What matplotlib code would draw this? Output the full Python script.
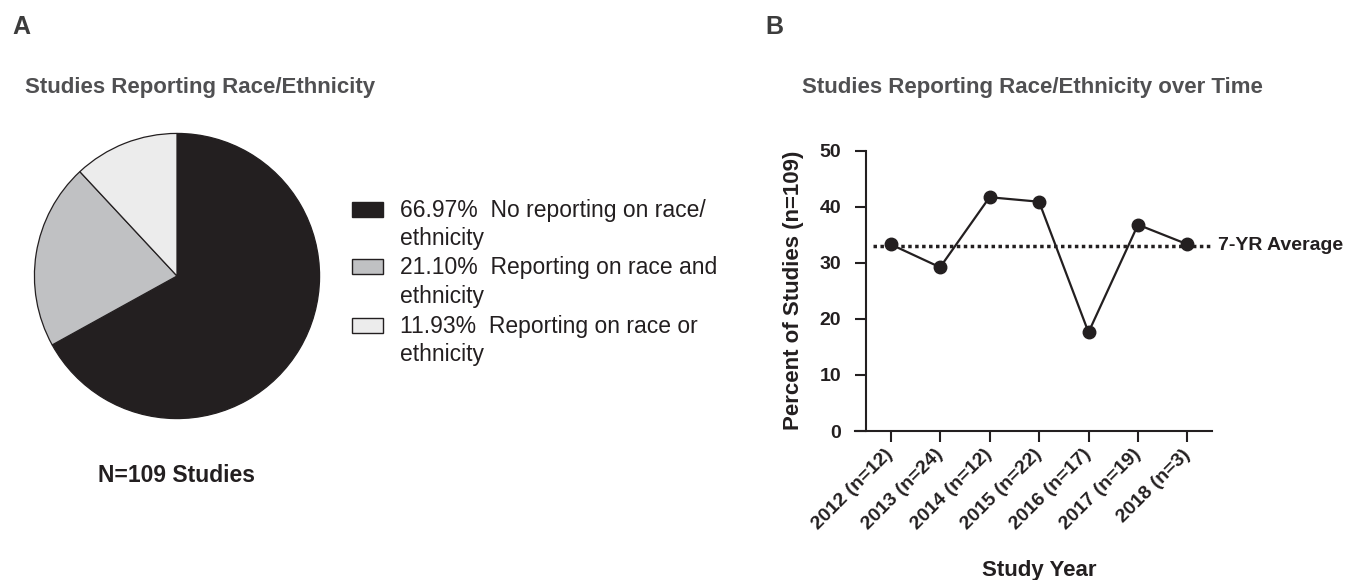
import numpy as np
import matplotlib
matplotlib.use("Agg")
import matplotlib.pyplot as plt
from matplotlib.patches import Rectangle

plt.rcParams['font.family'] = ['Liberation Sans', 'DejaVu Sans']

# ----------------------------
# data
# ----------------------------
pie_pct = [66.97, 21.10, 11.93]
pie_labels = ["No reporting on race/\nethnicity",
              "Reporting on race and\nethnicity",
              "Reporting on race or\nethnicity"]
pie_colors = ['#231f20', '#c0c1c3', '#ececec']
n_studies = 109

years = ['2012 (n=12)', '2013 (n=24)', '2014 (n=12)', '2015 (n=22)',
         '2016 (n=17)', '2017 (n=19)', '2018 (n=3)']
pct_reporting = [33.3, 29.2, 41.7, 40.9, 17.6, 36.8, 33.3]
avg_7yr = 33.03

dark = '#231f20'
gray_title = '#505052'

W, H = 1352, 580
def fx(x):
    return x / W
def fy(y):
    return 1 - y / H

fig = plt.figure(figsize=(W/100, H/100), dpi=100)

# ----------------------------
# A: pie
# ----------------------------
ax1 = fig.add_axes([fx(33), fy(420), 288/W, 288/H])
wedges, _ = ax1.pie(pie_pct, colors=pie_colors, startangle=90, counterclock=False,
                    wedgeprops=dict(edgecolor=dark, linewidth=0.9))
ax1.set_xlim(-1.01, 1.01)
ax1.set_ylim(-1.01, 1.01)
ax1.set_aspect('equal')

fig.text(fx(12), fy(27), 'A', fontsize=18, fontweight='bold', color='#3c3c3c', va='center')
fig.text(fx(25), fy(88), 'Studies Reporting Race/Ethnicity', fontsize=16, fontweight='bold',
         color=gray_title, va='center')
fig.text(fx(176), fy(475), f'N={n_studies} Studies', fontsize=16.5, fontweight='bold',
         color=dark, ha='center', va='center')

# legend drawn by hand so the box sits on the first line
for i, (p, lab, col) in enumerate(zip(pie_pct, pie_labels, pie_colors)):
    base = 216.5 + 58 * i
    fig.patches.append(Rectangle((fx(352), fy(base)), 31/W, 15/H, transform=fig.transFigure,
                                 facecolor=col, edgecolor=dark, linewidth=1.0))
    lines = lab.split('\n')
    fig.text(fx(400), fy(base), f'{p:.2f}%  {lines[0]}', fontsize=16.5, color=dark, va='baseline')
    fig.text(fx(400), fy(base + 28.5), lines[1], fontsize=16.5, color=dark, va='baseline')

# ----------------------------
# B: line over time
# ----------------------------
ax2 = fig.add_axes([fx(855), fy(431), 356.7/W, 280.3/H])
x = np.arange(len(years))
ax2.plot(x, pct_reporting, color=dark, linewidth=1.6, marker='o', markersize=9,
         clip_on=False, zorder=3)
ax2.hlines(avg_7yr, -0.35, 6.5, colors=dark, linewidth=2.5, linestyles=(0, (1, 1)),
           clip_on=False, zorder=2)
ax2.annotate('7-YR Average', xy=(6.5, avg_7yr), xytext=(4, 0), textcoords='offset points',
             fontsize=14, fontweight='bold', color=dark, va='center', ha='left',
             annotation_clip=False)

ax2.set_xlim(-0.72, 6.49)
ax2.set_ylim(0, 50)
ax2.spines['top'].set_visible(False)
ax2.spines['right'].set_visible(False)
ax2.spines['left'].set_position(('data', -0.5))
for s in ['left', 'bottom']:
    ax2.spines[s].set_linewidth(1.5)
    ax2.spines[s].set_color(dark)

ax2.set_yticks([0, 10, 20, 30, 40, 50])
ax2.set_xticks(x)
ax2.set_xticklabels(years, rotation=45, ha='right', va='center', rotation_mode='anchor')
ax2.tick_params(axis='both', length=8, width=1.5, color=dark, labelsize=14, labelcolor=dark)
ax2.tick_params(axis='y', pad=10)
ax2.tick_params(axis='x', pad=7)
for t in ax2.get_xticklabels() + ax2.get_yticklabels():
    t.set_fontweight('bold')

ax2.set_ylabel('Percent of Studies (n=109)', fontsize=16, fontweight='bold', color=dark)
ax2.yaxis.set_label_coords(-0.143, 0.503)
ax2.set_xlabel('Study Year', fontsize=16, fontweight='bold', color=dark)
ax2.xaxis.set_label_coords(0.516, -0.46)

fig.text(fx(765), fy(27), 'B', fontsize=18, fontweight='bold', color='#3c3c3c', va='center')
fig.text(fx(802), fy(87), 'Studies Reporting Race/Ethnicity over Time', fontsize=16,
         fontweight='bold', color=gray_title, va='center')

fig.savefig('out.png', dpi=100)
